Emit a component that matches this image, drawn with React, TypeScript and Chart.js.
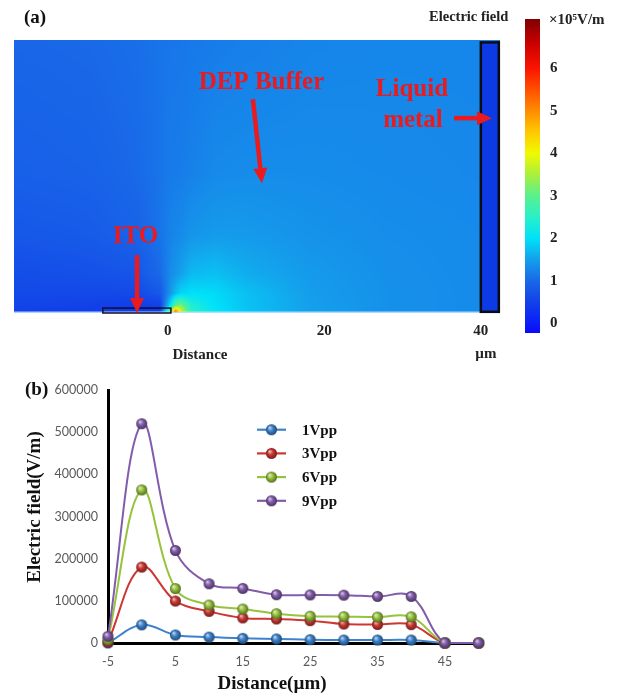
import React, { useEffect, useRef } from 'react';
import { Chart, registerables } from 'chart.js';

Chart.register(...registerables);

// ---------- panel (b) data ----------
const DISTANCE_UM = [-5, 0, 5, 10, 15, 20, 25, 30, 35, 40, 45, 50];
const FIELD_1VPP = [0, 43000, 19000, 14000, 11000, 9500, 8000, 7000, 7000, 7000, 0, 0];
const FIELD_3VPP = [2000, 180000, 99500, 75000, 59500, 57000, 53000, 45000, 44000, 43500, 0, 0];
const FIELD_6VPP = [8000, 363000, 129000, 90000, 80500, 69500, 63500, 62500, 61500, 62000, 0, 0];
const FIELD_9VPP = [16000, 520000, 219500, 140500, 129500, 114500, 114000, 113500, 110500, 110500, 0, 0];
const SERIES_LABELS = ['1Vpp', '3Vpp', '6Vpp', '9Vpp'];
const LINE_X_TICKS = [-5, 5, 15, 25, 35, 45];
const LINE_Y_TICKS = [0, 100000, 200000, 300000, 400000, 500000, 600000];
const X_TITLE = 'Distance(µm)';
const Y_TITLE = 'Electric field(V/m)';

// ---------- panel (a) data (field in x10^5 V/m, positions in µm) ----------
const MAP_X_TICKS = [0, 20, 40];
const COLORBAR_TICKS = [0, 1, 2, 3, 4, 5, 6];
const GRID_X = [-20, -10, -4, -1, 0.5, 1, 1.6, 3, 6, 10, 18, 28, 42];
const GRID_Y = [0, 0.3, 1, 2.5, 5, 10, 18, 35];
const FIELD_ROW_Y0 = [0.5, 0.45, 0.4, 0.4, 4.5, 6.5, 4.0, 2.5, 2.05, 1.78, 1.5, 1.36, 1.3];
const FIELD_ROW_Y03 = [0.5, 0.45, 0.4, 0.4, 3.5, 5.0, 3.8, 2.5, 2.05, 1.78, 1.5, 1.36, 1.3];
const FIELD_ROW_Y1 = [0.55, 0.5, 0.45, 0.5, 2.2, 3.0, 3.2, 2.4, 2.0, 1.76, 1.5, 1.36, 1.3];
const FIELD_ROW_Y25 = [0.6, 0.6, 0.6, 0.8, 1.5, 1.7, 1.9, 2.0, 1.95, 1.75, 1.48, 1.36, 1.3];
const FIELD_ROW_Y5 = [0.65, 0.7, 0.75, 1.0, 1.35, 1.4, 1.5, 1.7, 1.75, 1.6, 1.45, 1.35, 1.3];
const FIELD_ROW_Y10 = [0.78, 0.82, 0.92, 1.1, 1.25, 1.28, 1.3, 1.4, 1.45, 1.45, 1.38, 1.33, 1.3];
const FIELD_ROW_Y18 = [0.88, 0.92, 1.0, 1.1, 1.17, 1.17, 1.18, 1.22, 1.3, 1.32, 1.32, 1.3, 1.28];
const FIELD_ROW_Y35 = [0.97, 1.0, 1.05, 1.1, 1.12, 1.12, 1.12, 1.14, 1.17, 1.2, 1.25, 1.27, 1.27];
const FIELD_GRID = [FIELD_ROW_Y0, FIELD_ROW_Y03, FIELD_ROW_Y1, FIELD_ROW_Y25, FIELD_ROW_Y5, FIELD_ROW_Y10, FIELD_ROW_Y18, FIELD_ROW_Y35];
const ITO_X = [-8.3, 0.4];
const ITO_Y = [0, 0.5];
const METAL_X = [40.0, 42.3];
const METAL_Y = [0.15, 34.6];

// ---------- styles ----------
const SERIF = "'Liberation Serif', 'Times New Roman', serif";
const SANS = "Lato, 'Liberation Sans', sans-serif";
const RED = '#ea1a1e';
const SERIES_COLORS: number[][] = [[60, 130, 205], [205, 55, 50], [150, 195, 60], [130, 92, 170]];
const CB_MIN = -0.23;
const CB_MAX = 7.16;
const COLORMAP: [number, number[]][] = [
  [-0.23, [10, 10, 250]],
  [0, [10, 30, 250]],
  [0.5, [18, 65, 232]],
  [1, [25, 105, 232]],
  [1.5, [20, 160, 235]],
  [2, [0, 225, 250]],
  [2.5, [40, 240, 200]],
  [3, [90, 240, 140]],
  [3.5, [170, 240, 60]],
  [4, [240, 250, 0]],
  [4.5, [255, 200, 0]],
  [5, [255, 140, 0]],
  [5.5, [255, 80, 0]],
  [6, [250, 20, 0]],
  [6.6, [200, 0, 0]],
  [7.16, [128, 0, 0]],
];

function colormap(v: number): number[] {
  if (v <= COLORMAP[0][0]) return COLORMAP[0][1];
  for (let i = 0; i < COLORMAP.length - 1; i++) {
    const [a, ca] = COLORMAP[i];
    const [b, cb] = COLORMAP[i + 1];
    if (v <= b) {
      const t = (v - a) / (b - a);
      return [ca[0] + (cb[0] - ca[0]) * t, ca[1] + (cb[1] - ca[1]) * t, ca[2] + (cb[2] - ca[2]) * t];
    }
  }
  return COLORMAP[COLORMAP.length - 1][1];
}

function locate(arr: number[], v: number): [number, number] {
  if (v <= arr[0]) return [0, 0];
  if (v >= arr[arr.length - 1]) return [arr.length - 2, 1];
  for (let i = 0; i < arr.length - 1; i++) {
    if (v <= arr[i + 1]) return [i, (v - arr[i]) / (arr[i + 1] - arr[i])];
  }
  return [arr.length - 2, 1];
}

function sampleField(x: number, y: number): number {
  const [i, tx] = locate(GRID_X, x);
  const [j, ty] = locate(GRID_Y, y);
  const r0 = FIELD_GRID[j], r1 = FIELD_GRID[j + 1];
  const a = r0[i] + (r0[i + 1] - r0[i]) * tx;
  const b = r1[i] + (r1[i + 1] - r1[i]) * tx;
  return a + (b - a) * ty;
}

const rgb = (c: number[]) => `rgb(${Math.round(c[0])},${Math.round(c[1])},${Math.round(c[2])})`;
const mix = (c: number[], d: number[], t: number) => [c[0] + (d[0] - c[0]) * t, c[1] + (d[1] - c[1]) * t, c[2] + (d[2] - c[2]) * t];

function makeSphere(c: number[], r: number): HTMLCanvasElement {
  const s = Math.ceil(2 * r + 2);
  const cv = document.createElement('canvas');
  cv.width = s; cv.height = s;
  const g = cv.getContext('2d')!;
  const cx = s / 2, cy = s / 2;
  const grad = g.createRadialGradient(cx - r * 0.35, cy - r * 0.4, r * 0.05, cx, cy, r);
  grad.addColorStop(0, rgb(mix(c, [255, 255, 255], 0.7)));
  grad.addColorStop(0.45, rgb(c));
  grad.addColorStop(1, rgb(mix(c, [0, 0, 0], 0.45)));
  g.fillStyle = grad;
  g.beginPath(); g.arc(cx, cy, r, 0, Math.PI * 2); g.fill();
  return cv;
}

function drawArrow(ctx: CanvasRenderingContext2D, x1: number, y1: number, x2: number, y2: number) {
  const ang = Math.atan2(y2 - y1, x2 - x1);
  const head = 15, hw = 7;
  const bx = x2 - head * Math.cos(ang), by = y2 - head * Math.sin(ang);
  ctx.save();
  ctx.strokeStyle = RED; ctx.fillStyle = RED; ctx.lineWidth = 4.5; ctx.lineCap = 'butt';
  ctx.beginPath(); ctx.moveTo(x1, y1); ctx.lineTo(bx, by); ctx.stroke();
  ctx.beginPath();
  ctx.moveTo(x2, y2);
  ctx.lineTo(bx + hw * Math.sin(ang), by - hw * Math.cos(ang));
  ctx.lineTo(bx - hw * Math.sin(ang), by + hw * Math.cos(ang));
  ctx.closePath(); ctx.fill();
  ctx.restore();
}

function text(ctx: CanvasRenderingContext2D, s: string, x: number, y: number, font: string, color: string, align: CanvasTextAlign = 'center', rot = 0) {
  ctx.save();
  ctx.font = font; ctx.fillStyle = color; ctx.textAlign = align; ctx.textBaseline = 'middle';
  ctx.translate(x, y);
  if (rot) ctx.rotate(rot);
  ctx.fillText(s, 0, 0);
  ctx.restore();
}

const fieldMapPlugin = {
  id: 'fieldMap',
  beforeDatasetsDraw(chart: any) {
    const { ctx, chartArea: a, scales: { x, y } } = chart;
    const w = Math.round(a.right - a.left), h = Math.round(a.bottom - a.top);
    const off = document.createElement('canvas');
    off.width = w; off.height = h;
    const octx = off.getContext('2d')!;
    const img = octx.createImageData(w, h);
    for (let j = 0; j < h; j++) {
      const vy = y.getValueForPixel(a.top + j + 0.5);
      for (let i = 0; i < w; i++) {
        const vx = x.getValueForPixel(a.left + i + 0.5);
        const c = colormap(sampleField(vx, vy));
        const k = (j * w + i) * 4;
        img.data[k] = c[0]; img.data[k + 1] = c[1]; img.data[k + 2] = c[2]; img.data[k + 3] = 255;
      }
    }
    octx.putImageData(img, 0, 0);
    ctx.drawImage(off, a.left, a.top);
    ctx.save();
    ctx.strokeStyle = 'rgba(190,225,255,0.9)'; ctx.lineWidth = 1.5;
    ctx.beginPath(); ctx.moveTo(a.left, a.bottom - 0.75); ctx.lineTo(a.right, a.bottom - 0.75); ctx.stroke();
    const mx0 = x.getPixelForValue(METAL_X[0]), mx1 = x.getPixelForValue(METAL_X[1]);
    const my0 = y.getPixelForValue(METAL_Y[1]), my1 = y.getPixelForValue(METAL_Y[0]);
    ctx.fillStyle = 'rgb(12,58,228)';
    ctx.fillRect(mx0, my0, mx1 - mx0, my1 - my0);
    ctx.strokeStyle = '#0a0a14'; ctx.lineWidth = 2.5;
    ctx.strokeRect(mx0, my0, mx1 - mx0, my1 - my0);
    const ix0 = x.getPixelForValue(ITO_X[0]), ix1 = x.getPixelForValue(ITO_X[1]);
    const iy0 = y.getPixelForValue(ITO_Y[1]), iy1 = y.getPixelForValue(ITO_Y[0]);
    ctx.strokeStyle = '#101028'; ctx.lineWidth = 1.5;
    ctx.strokeRect(ix0, iy0 - 1, ix1 - ix0, iy1 - iy0 + 1);
    ctx.restore();
  },
  afterDraw(chart: any) {
    const { ctx, scales: { x, y } } = chart;
    const px = (v: number) => x.getPixelForValue(v);
    const py = (v: number) => y.getPixelForValue(v);
    const big = `bold 25px ${SERIF}`;
    text(ctx, '(a)', 24, 18, `bold 19px ${SERIF}`, '#111', 'left');
    text(ctx, 'Electric field', 429, 17, `bold 14.5px ${SERIF}`, '#222', 'left');
    text(ctx, '×10⁵V/m', 549, 20, `bold 15px ${SERIF}`, '#222', 'left');
    text(ctx, 'DEP Buffer', px(11.97), py(29.52), big, RED);
    text(ctx, 'Liquid', px(31.2), py(28.62), big, RED);
    text(ctx, 'metal', px(31.33), py(24.66), big, RED);
    text(ctx, 'ITO', px(-4.13), py(9.71), big, RED);
    drawArrow(ctx, px(10.88), py(27.32), px(12.03), py(16.6));
    drawArrow(ctx, px(36.57), py(24.91), px(41.43), py(24.91));
    drawArrow(ctx, px(-3.93), py(7.41), px(-3.93), py(0));
    text(ctx, 'Distance', px(4.11), py(-5.37), `bold 15px ${SERIF}`, '#222');
    text(ctx, 'µm', px(40.65), py(-5.24), `bold 15px ${SERIF}`, '#222');
  },
};

function buildMap(canvas: HTMLCanvasElement) {
  return new Chart(canvas, {
    type: 'scatter',
    data: { datasets: [] },
    plugins: [fieldMapPlugin],
    options: {
      animation: false,
      responsive: false,
      layout: { padding: { left: 14, right: 125, top: 40, bottom: 0 } },
      plugins: { legend: { display: false }, tooltip: { enabled: false } },
      scales: {
        x: {
          type: 'linear', min: -19.65, max: 42.45,
          afterBuildTicks: (s: any) => { s.ticks = MAP_X_TICKS.map((v) => ({ value: v })); },
          afterFit: (s: any) => { s.height = 57; },
          grid: { display: false, drawTicks: false },
          border: { display: false },
          ticks: { autoSkip: false, maxRotation: 0, padding: 9, color: '#222', font: { family: SERIF, size: 15, weight: 'bold' } },
        },
        y: { type: 'linear', min: 0, max: 34.9, display: false },
      },
    } as any,
  });
}

function buildColorbar(canvas: HTMLCanvasElement) {
  return new Chart(canvas, {
    type: 'bar',
    data: {
      labels: ['E'],
      datasets: [{
        data: [[CB_MIN, CB_MAX]] as any,
        barPercentage: 1,
        categoryPercentage: 1,
        borderWidth: 0,
        backgroundColor: (context: any) => {
          const { chart } = context;
          const ys = chart.scales?.y;
          if (!chart.chartArea || !ys) return 'blue';
          const g = chart.ctx.createLinearGradient(0, ys.getPixelForValue(CB_MIN), 0, ys.getPixelForValue(CB_MAX));
          COLORMAP.forEach(([v, c]) => g.addColorStop(Math.min(1, Math.max(0, (v - CB_MIN) / (CB_MAX - CB_MIN))), rgb(c)));
          return g;
        },
      }],
    },
    options: {
      animation: false,
      responsive: false,
      layout: { padding: { left: 25, right: 0, top: 6, bottom: 37 } },
      plugins: { legend: { display: false }, tooltip: { enabled: false } },
      scales: {
        x: { display: false },
        y: {
          position: 'right', min: CB_MIN, max: CB_MAX,
          afterBuildTicks: (s: any) => { s.ticks = COLORBAR_TICKS.map((v) => ({ value: v })); },
          afterFit: (s: any) => { s.width = 85; },
          grid: { display: false, drawTicks: false },
          border: { display: false },
          ticks: { padding: 10, color: '#222', font: { family: SERIF, size: 15, weight: 'bold' } },
        },
      },
    } as any,
  });
}

function buildLine(canvas: HTMLCanvasElement) {
  const series = [FIELD_1VPP, FIELD_3VPP, FIELD_6VPP, FIELD_9VPP];
  const spheres = SERIES_COLORS.map((c) => makeSphere(c, 5.5));
  const legendPlugin = {
    id: 'vppLegend',
    afterDraw(chart: any) {
      const { ctx } = chart;
      SERIES_LABELS.forEach((label, i) => {
        const yy = 59.7 + i * 23.7;
        ctx.save();
        ctx.strokeStyle = rgb(SERIES_COLORS[i]); ctx.lineWidth = 2.2;
        ctx.beginPath(); ctx.moveTo(257, yy); ctx.lineTo(286, yy); ctx.stroke();
        const s = spheres[i];
        ctx.drawImage(s, 271.5 - s.width / 2, yy - s.height / 2);
        ctx.restore();
        text(ctx, label, 302, yy + 1, `bold 15px ${SERIF}`, '#111', 'left');
      });
      text(ctx, '(b)', 25, 20, `bold 19px ${SERIF}`, '#111', 'left');
      const titleFont = `bold 19px ${SERIF}`;
      text(ctx, Y_TITLE, 35, 137, titleFont, '#111', 'center', -Math.PI / 2);
      text(ctx, X_TITLE, 272, 314, titleFont, '#111', 'center');
    },
  };
  return new Chart(canvas, {
    type: 'line',
    data: {
      datasets: series.map((vals, i) => ({
        label: SERIES_LABELS[i],
        data: DISTANCE_UM.map((d, k) => ({ x: d, y: vals[k] })),
        borderColor: rgb(SERIES_COLORS[i]),
        borderWidth: 2,
        tension: 0.38,
        pointStyle: spheres[i],
        pointRadius: 5.5,
        clip: false,
        order: 4 - i,
      })),
    },
    plugins: [legendPlugin],
    options: {
      animation: false,
      responsive: false,
      layout: { padding: { left: 0, right: 143, top: 20, bottom: 0 } },
      plugins: { legend: { display: false }, tooltip: { enabled: false } },
      scales: {
        x: {
          type: 'linear', min: -5, max: 50.5,
          afterBuildTicks: (s: any) => { s.ticks = LINE_X_TICKS.map((v) => ({ value: v })); },
          afterFit: (s: any) => { s.height = 53; },
          grid: { display: false, drawTicks: false },
          border: { display: true, color: '#000', width: 3 },
          ticks: { autoSkip: false, maxRotation: 0, padding: 11, color: '#595959', font: { family: SANS, size: 12.5 } },
        },
        y: {
          type: 'linear', min: 0, max: 600000,
          afterBuildTicks: (s: any) => { s.ticks = LINE_Y_TICKS.map((v) => ({ value: v })); },
          afterFit: (s: any) => { s.width = 108; },
          grid: { display: false, drawTicks: false },
          border: { display: true, color: '#000', width: 3 },
          ticks: { padding: 10, color: '#595959', font: { family: SANS, size: 12.5 }, callback: (v: any) => String(v) },
        },
      },
    } as any,
  });
}

export default function App() {
  const mapRef = useRef<HTMLCanvasElement>(null);
  const barRef = useRef<HTMLCanvasElement>(null);
  const lineRef = useRef<HTMLCanvasElement>(null);
  useEffect(() => {
    const charts = [buildMap(mapRef.current!), buildColorbar(barRef.current!), buildLine(lineRef.current!)];
    return () => charts.forEach((c) => c.destroy());
  }, []);
  return (
    <div style={{ position: 'absolute', left: 0, top: 0, width: 625, height: 696, background: '#fff', overflow: 'hidden' }}>
      <canvas ref={mapRef} width={625} height={370} style={{ position: 'absolute', left: 0, top: 0 }} />
      <canvas ref={barRef} width={125} height={370} style={{ position: 'absolute', left: 500, top: 0 }} />
      <canvas ref={lineRef} width={625} height={326} style={{ position: 'absolute', left: 0, top: 370 }} />
    </div>
  );
}
